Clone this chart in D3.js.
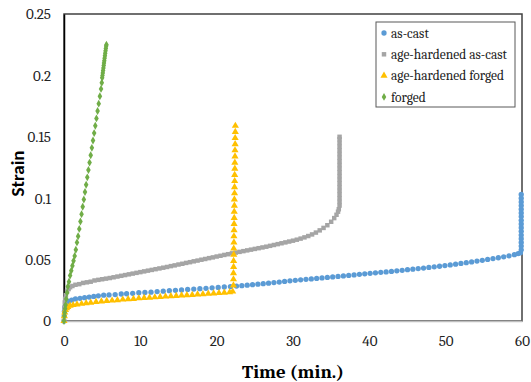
<!DOCTYPE html>
<html>
<head>
<meta charset="utf-8">
<script src="https://cdn.jsdelivr.net/npm/d3@7"></script>
<style>
  body { margin: 0; background: #fff; }
  svg { display: block; }
</style>
</head>
<body>
<svg id="chart" width="531" height="382"></svg>
<script>
// ── Data (time in min., strain) ──
const seriesNames = ['as-cast', 'age-hardened as-cast', 'age-hardened forged', 'forged'];
const xTicks = [0, 10, 20, 30, 40, 50, 60];
const yTicks = [0, 0.05, 0.1, 0.15, 0.2, 0.25];

const asCast = [
  [0,0],[0.03,0.004],[0.06,0.008],[0.1,0.011],[0.2,0.013],[0.35,0.015],[0.6,0.016],[1.0,0.017],
  [1.5,0.018],[2.1,0.0185],[2.7,0.019],[3.3,0.0195],[3.9,0.020],[4.5,0.0205],[5.2,0.021],
  [5.9,0.0212],[6.7,0.0215],[7.5,0.022],[8.2,0.0222],[9.0,0.0225],[9.8,0.023],[10.6,0.0232],
  [11.4,0.0235],[12.2,0.024],[13.0,0.0243],[13.8,0.0247],[14.6,0.025],[15.4,0.0253],[16.2,0.0257],
  [17.0,0.026],[17.8,0.0263],[18.6,0.0266],[19.4,0.027],[20.2,0.0273],[21.0,0.0277],[21.8,0.028],
  [22.6,0.0284],[23.3,0.0288],[24.0,0.0292],[24.7,0.0296],[25.4,0.0300],[26.1,0.0304],[26.8,0.0308],
  [27.5,0.0313],[28.2,0.0317],[28.9,0.0322],[29.6,0.0327],[30.3,0.0331],[31.0,0.0335],[31.7,0.0339],
  [32.4,0.0343],[33.1,0.0347],[33.8,0.0351],[34.5,0.0355],[35.2,0.0359],[35.9,0.0363],[36.6,0.0367],
  [37.3,0.0371],[38.0,0.0375],[38.7,0.0380],[39.4,0.0384],[40.1,0.0388],[40.8,0.0392],[41.5,0.0396],
  [42.2,0.0400],[42.9,0.0404],[43.6,0.0409],[44.3,0.0413],[45.0,0.0418],[45.7,0.0422],[46.4,0.0427],
  [47.1,0.0431],[47.8,0.0436],[48.5,0.0441],[49.2,0.0446],[49.9,0.0451],[50.6,0.0457],[51.3,0.0463],
  [52.0,0.0469],[52.7,0.0475],[53.4,0.0481],[54.1,0.0488],[54.8,0.0494],[55.5,0.0501],[56.2,0.0508],
  [56.9,0.0515],[57.6,0.0523],[58.3,0.0531],[59.0,0.0540],[59.5,0.0548],[59.8,0.0555],
  [59.9,0.058],[59.9,0.061],[59.9,0.064],[59.9,0.067],[59.9,0.070],[59.9,0.073],[59.9,0.076],
  [59.9,0.079],[59.9,0.082],[59.9,0.085],[59.9,0.088],[59.9,0.091],[59.9,0.094],[59.9,0.097],
  [59.9,0.100],[59.9,0.103]
];

const ageHardenedAsCast = [
  [0,0],[0.03,0.006],[0.06,0.011],[0.1,0.015],[0.15,0.018],[0.25,0.021],[0.4,0.024],[0.6,0.026],
  [0.8,0.0275],[1.1,0.0285],[1.5,0.0295],[2.0,0.030],[2.5,0.031],[3.0,0.0315],[3.5,0.032],
  [4.0,0.033],[4.5,0.0335],[5.0,0.034],[5.5,0.0345],[6.0,0.035],[6.5,0.0356],[7.0,0.0362],
  [7.5,0.0368],[8.0,0.0374],[8.5,0.038],[9.0,0.0386],[9.5,0.0392],[10.0,0.0398],[10.5,0.0404],
  [11.0,0.041],[11.5,0.0416],[12.0,0.0422],[12.5,0.0428],[13.0,0.0434],[13.5,0.044],[14.0,0.0447],
  [14.5,0.0453],[15.0,0.046],[15.5,0.0466],[16.0,0.0473],[16.5,0.0479],[17.0,0.0486],[17.5,0.0492],
  [18.0,0.0499],[18.5,0.0505],[19.0,0.0512],[19.5,0.0518],[20.0,0.0525],[20.5,0.0531],[21.0,0.0538],
  [21.5,0.0544],[22.0,0.0551],[22.5,0.0557],[23.0,0.0563],[23.5,0.0569],[24.0,0.0575],[24.5,0.0581],
  [25.0,0.0587],[25.5,0.0593],[26.0,0.0599],[26.5,0.0605],[27.0,0.0612],[27.5,0.0619],[28.0,0.0626],
  [28.5,0.0633],[29.0,0.064],[29.5,0.0647],[30.0,0.0654],[30.5,0.0662],[31.0,0.0671],[31.5,0.0681],
  [32.0,0.0692],[32.5,0.0705],[33.0,0.072],[33.5,0.0738],[34.0,0.0758],[34.5,0.078],[35.0,0.0808],
  [35.4,0.0838],[35.7,0.0865],[35.9,0.089],[36.0,0.091],
  [36.1,0.094],[36.1,0.097],[36.1,0.100],[36.1,0.103],[36.1,0.106],[36.1,0.109],[36.1,0.112],
  [36.1,0.115],[36.1,0.118],[36.1,0.121],[36.1,0.124],[36.1,0.127],[36.1,0.130],[36.1,0.133],
  [36.1,0.136],[36.1,0.139],[36.1,0.142],[36.1,0.145],[36.1,0.148],[36.1,0.150]
];

const ageHardenedForged = [
  [0,0],[0.05,0.004],[0.1,0.007],[0.2,0.009],[0.35,0.0105],[0.5,0.0115],[0.8,0.0125],[1.2,0.013],
  [1.7,0.0135],[2.3,0.014],[2.9,0.0145],[3.5,0.015],[4.2,0.0155],[4.9,0.016],[5.6,0.0163],
  [6.3,0.0167],[7.0,0.017],[7.7,0.0175],[8.4,0.0178],[9.1,0.018],[9.8,0.0185],[10.5,0.0188],
  [11.2,0.019],[11.9,0.0193],[12.6,0.0196],[13.3,0.0199],[14.0,0.0202],[14.7,0.0205],[15.4,0.0208],
  [16.1,0.021],[16.8,0.0213],[17.5,0.0216],[18.2,0.0219],[18.9,0.0222],[19.6,0.0225],[20.3,0.0228],
  [21.0,0.0231],[21.7,0.0234],[22.1,0.024],
  [22.2,0.029],[22.2,0.034],[22.2,0.039],[22.22,0.044],[22.22,0.049],[22.24,0.054],[22.24,0.059],
  [22.26,0.064],[22.26,0.069],[22.28,0.074],[22.28,0.079],[22.3,0.084],[22.3,0.089],[22.32,0.094],
  [22.32,0.099],[22.34,0.104],[22.34,0.109],[22.36,0.114],[22.36,0.119],[22.38,0.124],[22.38,0.129],
  [22.4,0.134],[22.4,0.139],[22.42,0.144],[22.42,0.149],[22.44,0.154],[22.45,0.159]
];

const forged = [
  [0,0],[0.05,0.004],[0.1,0.007],[0.15,0.010],[0.2,0.013],[0.3,0.018],[0.4,0.023],[0.5,0.028],
  [0.65,0.032],[0.8,0.037],[0.95,0.041],[1.1,0.045],[1.25,0.049],[1.4,0.053],[1.55,0.058],
  [1.7,0.064],[1.85,0.069],[2.0,0.075],[2.15,0.081],[2.3,0.087],[2.45,0.093],[2.6,0.099],
  [2.75,0.105],[2.9,0.111],[3.05,0.117],[3.2,0.123],[3.35,0.129],[3.5,0.135],[3.65,0.141],
  [3.8,0.147],[3.95,0.153],[4.1,0.159],[4.25,0.165],[4.4,0.171],[4.55,0.177],[4.7,0.183],
  [4.85,0.189],[4.95,0.194],[5.0,0.198],
  [5.04,0.200],[5.08,0.202],[5.12,0.204],[5.16,0.206],[5.2,0.208],[5.24,0.210],[5.28,0.212],
  [5.32,0.214],[5.36,0.216],[5.4,0.218],[5.44,0.220],[5.48,0.222],[5.52,0.224],[5.56,0.225]
];

// ── Layout ──
const margin = { top: 14, right: 9, bottom: 61, left: 64 };
const W = 531, H = 382;
const iw = W - margin.left - margin.right;
const ih = H - margin.top - margin.bottom;
const serif = "Cambria, Caladea, 'Liberation Serif', serif";

const svg = d3.select('#chart');
const g = svg.append('g').attr('transform', `translate(${margin.left},${margin.top})`);

const x = d3.scaleLinear().domain([0, 60]).range([0, iw]);
const y = d3.scaleLinear().domain([0, 0.25]).range([ih, 0]);

// Plot frame
g.append('rect')
  .attr('x', 0).attr('y', 0).attr('width', iw).attr('height', ih)
  .attr('fill', 'none').attr('stroke', '#404040').attr('stroke-width', 1.5);

// Axes
const xAxis = g.append('g').attr('transform', `translate(0,${ih})`)
  .call(d3.axisBottom(x).tickValues(xTicks).tickSize(0).tickPadding(14).tickFormat(d3.format('d')));
xAxis.select('.domain').attr('stroke', '#bfbfbf').attr('stroke-width', 1.5);

const yAxis = g.append('g')
  .call(d3.axisLeft(y).tickValues(yTicks).tickSize(0).tickPadding(13).tickFormat(d => d === 0 ? '0' : String(d)));
yAxis.select('.domain').attr('stroke', '#000').attr('stroke-width', 1.5);

g.selectAll('.tick text')
  .attr('font-family', serif).attr('font-size', '15px').attr('fill', '#222');

// ── Series ──
const sym = {
  circle: d3.symbol().type(d3.symbolCircle).size(22),
  square: d3.symbol().type(d3.symbolSquare).size(20),
  triangle: d3.symbol().type(d3.symbolTriangle).size(22),
  diamond: d3.symbol().type(d3.symbolDiamond).size(18)
};

const series = [
  { name: seriesNames[0], data: asCast, color: '#5b9bd5', shape: sym.circle },
  { name: seriesNames[1], data: ageHardenedAsCast, color: '#a5a5a5', shape: sym.square },
  { name: seriesNames[2], data: ageHardenedForged, color: '#ffc000', shape: sym.triangle },
  { name: seriesNames[3], data: forged, color: '#70ad47', shape: sym.diamond }
];

series.forEach(s => {
  g.append('g').selectAll('path').data(s.data).join('path')
    .attr('d', s.shape())
    .attr('transform', d => `translate(${x(d[0])},${y(d[1])})`)
    .attr('fill', s.color);
});

// ── Axis titles ──
svg.append('text')
  .attr('x', margin.left + iw / 2).attr('y', 378)
  .attr('text-anchor', 'middle')
  .attr('font-family', serif).attr('font-size', '19px').attr('font-weight', 'bold')
  .attr('fill', '#000')
  .text('Time (min.)');

svg.append('text')
  .attr('transform', `translate(24,${margin.top + ih / 2 + 6}) rotate(-90)`)
  .attr('text-anchor', 'middle')
  .attr('font-family', "Carlito, 'Liberation Sans', sans-serif").attr('font-size', '19px').attr('font-weight', 'bold')
  .attr('fill', '#000')
  .text('Strain');

// ── Legend ──
const legend = svg.append('g').attr('transform', 'translate(376,22)');
legend.append('rect')
  .attr('width', 139).attr('height', 85)
  .attr('fill', '#fff').attr('stroke', '#595959').attr('stroke-width', 1);

series.forEach((s, i) => {
  const row = legend.append('g').attr('transform', `translate(0,${11 + i * 21.3})`);
  row.append('path').attr('d', s.shape()).attr('transform', 'translate(8,0)').attr('fill', s.color);
  row.append('text')
    .attr('x', 15).attr('y', 0).attr('dy', '0.35em')
    .attr('font-family', serif).attr('font-size', '13.5px').attr('fill', '#222')
    .text(s.name);
});
</script>
</body>
</html>
